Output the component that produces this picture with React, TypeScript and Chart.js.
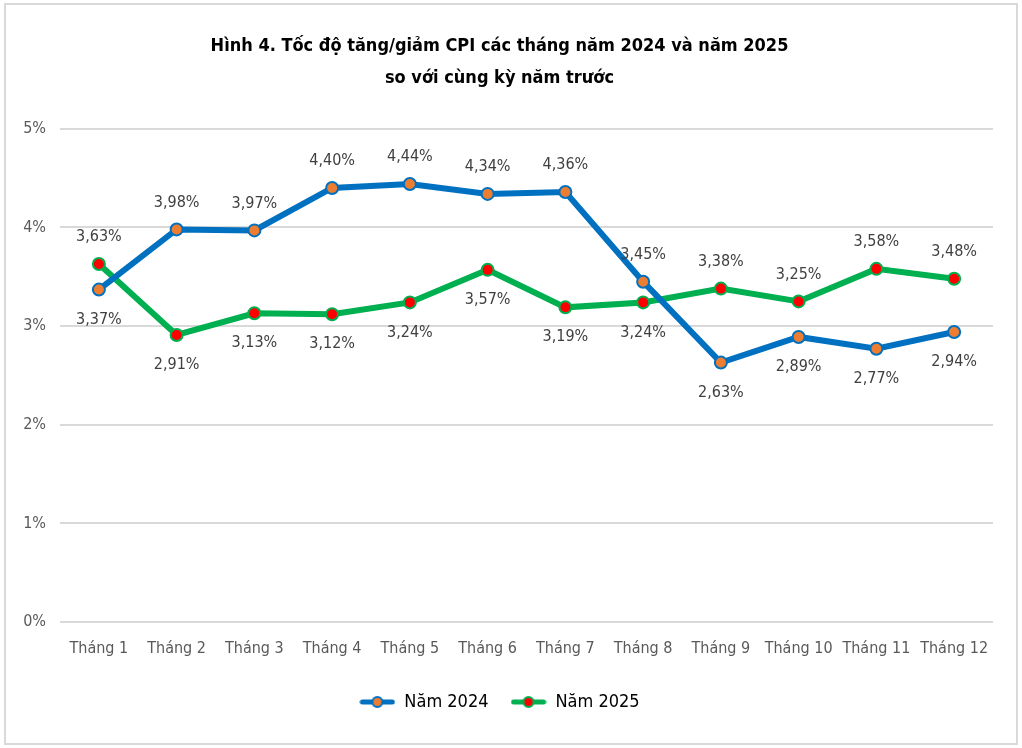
import { useEffect, useRef } from 'react';
import { Chart, registerables } from 'chart.js';

Chart.register(...registerables);

const months = [
  'Tháng 1', 'Tháng 2', 'Tháng 3', 'Tháng 4', 'Tháng 5', 'Tháng 6',
  'Tháng 7', 'Tháng 8', 'Tháng 9', 'Tháng 10', 'Tháng 11', 'Tháng 12',
];
const cpi2024 = [3.37, 3.98, 3.97, 4.40, 4.44, 4.34, 4.36, 3.45, 2.63, 2.89, 2.77, 2.94];
const cpi2025 = [3.63, 2.91, 3.13, 3.12, 3.24, 3.57, 3.19, 3.24, 3.38, 3.25, 3.58, 3.48];
const seriesNames = ['Năm 2024', 'Năm 2025'];
const titleLines = [
  'Hình 4. Tốc độ tăng/giảm CPI các tháng năm 2024 và năm 2025',
  'so với cùng kỳ năm trước',
];

const FONT = '"Liberation Sans Narrow", "DejaVu Sans Condensed", "Arial Narrow", sans-serif';
const BLUE = '#0070C0';
const GREEN = '#00B050';

const fmt = (v: number) => v.toFixed(2).replace('.', ',') + '%';

// legend swatch: short line with a marker in the middle
const makeSwatch = (line: string, fill: string) => {
  const c = document.createElement('canvas');
  c.width = 36;
  c.height = 14;
  const g = c.getContext('2d')!;
  g.strokeStyle = line;
  g.lineWidth = 5;
  g.lineCap = 'round';
  g.beginPath();
  g.moveTo(3, 7);
  g.lineTo(33, 7);
  g.stroke();
  g.beginPath();
  g.arc(18, 7, 5, 0, Math.PI * 2);
  g.fillStyle = fill;
  g.fill();
  g.lineWidth = 2;
  g.stroke();
  return c;
};

const labelPlugin = {
  id: 'valueLabels',
  afterDatasetsDraw(chart: Chart) {
    const ctx = chart.ctx;
    ctx.save();
    ctx.font = `16px ${FONT}`;
    ctx.fillStyle = '#404040';
    ctx.textAlign = 'center';
    ctx.textBaseline = 'middle';
    chart.data.datasets.forEach((ds, di) => {
      const other = chart.data.datasets[1 - di].data as number[];
      const meta = chart.getDatasetMeta(di);
      meta.data.forEach((pt, i) => {
        const v = (ds.data as number[])[i];
        const above = v >= other[i];
        const y = above ? pt.y - 27 : pt.y + 30;
        ctx.fillText(fmt(v), pt.x, y);
      });
    });
    ctx.restore();
  },
};

export default function App() {
  const chartRef = useRef<HTMLCanvasElement>(null);
  const chartInstance = useRef<Chart | null>(null);

  useEffect(() => {
    document.body.style.margin = '0';
    if (!chartRef.current) return;
    if (chartInstance.current) chartInstance.current.destroy();

    const swatches = [makeSwatch(BLUE, '#ED7D31'), makeSwatch(GREEN, '#FF0000')];

    chartInstance.current = new Chart(chartRef.current, {
      type: 'line',
      data: {
        labels: months,
        datasets: [
          {
            label: seriesNames[0],
            data: cpi2024,
            borderColor: BLUE,
            borderWidth: 6,
            pointRadius: 6,
            pointBackgroundColor: '#ED7D31',
            pointBorderColor: BLUE,
            pointBorderWidth: 2,
            tension: 0,
          },
          {
            label: seriesNames[1],
            data: cpi2025,
            borderColor: GREEN,
            borderWidth: 6,
            pointRadius: 6,
            pointBackgroundColor: '#FF0000',
            pointBorderColor: GREEN,
            pointBorderWidth: 2,
            tension: 0,
          },
        ],
      },
      options: {
        animation: false,
        responsive: true,
        maintainAspectRatio: false,
        layout: { padding: { top: 25, right: 23, bottom: 22, left: 0 } },
        plugins: {
          title: {
            display: true,
            text: titleLines,
            color: '#000',
            font: { family: FONT, size: 18, weight: 'bold', lineHeight: 1.8 },
            padding: { top: 0, bottom: 34 },
          },
          legend: {
            position: 'bottom',
            labels: {
              color: '#000',
              font: { family: FONT, size: 18 },
              usePointStyle: true,
              pointStyleWidth: 36,
              padding: 22,
              generateLabels: (chart: Chart) =>
                chart.data.datasets.map((ds, i) => ({
                  text: ds.label as string,
                  pointStyle: swatches[i],
                  fillStyle: 'transparent',
                  strokeStyle: 'transparent',
                  lineWidth: 0,
                  hidden: false,
                  datasetIndex: i,
                  fontColor: '#000',
                })),
            },
          },
          tooltip: { enabled: false },
        },
        scales: {
          x: {
            offset: true,
            grid: { display: false },
            border: { display: false },
            ticks: { color: '#595959', font: { family: FONT, size: 16 }, padding: 9, maxRotation: 0 },
            afterFit: (s: any) => { s.height = 49; },
          },
          y: {
            min: 0,
            max: 5,
            grid: { color: '#d9d9d9', lineWidth: 2, drawTicks: false },
            border: { display: false },
            ticks: {
              stepSize: 1,
              color: '#595959',
              font: { family: FONT, size: 16 },
              padding: 14,
              callback: (v: any) => v + '%',
            },
            afterFit: (s: any) => { s.width = 54; },
          },
        },
      },
      plugins: [labelPlugin],
    });

    return () => {
      if (chartInstance.current) {
        chartInstance.current.destroy();
        chartInstance.current = null;
      }
    };
  }, []);

  return (
    <div
      style={{
        position: 'absolute',
        left: 4,
        top: 3,
        width: 1014,
        height: 742,
        border: '2px solid #d9d9d9',
        boxSizing: 'border-box',
        background: 'white',
      }}
    >
      <canvas ref={chartRef} />
    </div>
  );
}
